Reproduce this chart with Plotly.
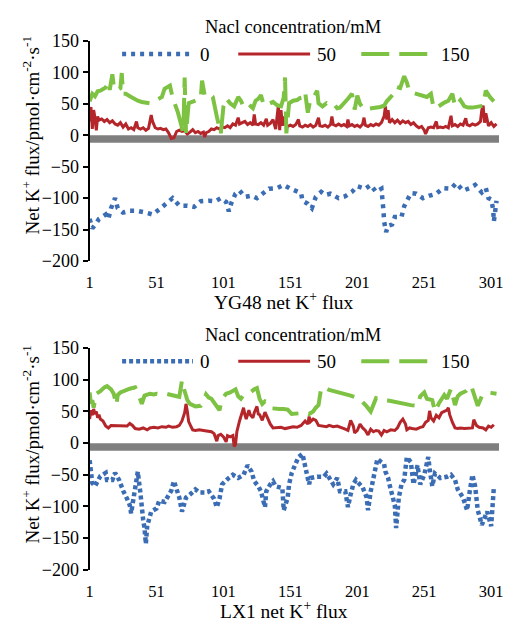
import plotly.graph_objects as go

# ---------------- data: YG48 (top panel) ----------------
yg_x0 = [1, 3, 6, 8, 13, 15, 17, 19, 20, 22, 26, 31, 36, 43, 48, 53, 58, 60, 63, 68, 74, 79, 84, 90, 95, 99,
         103, 105, 107, 110, 113, 117, 122, 126, 131, 135, 141, 146, 151, 156, 159, 160, 164, 167, 170, 174,
         177, 181, 187, 192, 197, 201, 207, 211, 215, 219, 220, 220.5, 221, 222.5, 224, 227, 229, 234, 236,
         239, 241, 245, 250, 255, 260, 265, 271, 275, 280, 285, 289, 294, 297, 299, 301, 302.5, 303, 304, 305]
yg_y0 = [-133, -148, -140, -133, -126, -133, -116, -102, -100, -116, -123, -120, -120, -123, -126, -118, -109,
         -106, -100, -112, -112, -114, -105, -104, -105, -100, -106, -121, -107, -93, -88, -98, -96, -100, -92,
         -85, -84, -79, -85, -90, -92, -104, -109, -116, -98, -90, -95, -93, -100, -97, -90, -81, -85, -79, -90,
         -85, -102, -119, -137, -154, -144, -142, -130, -130, -113, -98, -92, -93, -100, -96, -93, -84, -85,
         -76, -88, -84, -79, -91, -84, -100, -102, -118, -137, -121, -104]

yg_x50 = [1, 2, 3, 4, 5, 6, 7, 8, 10, 12, 14, 16, 18, 20, 22, 24, 26, 28, 30, 32, 34, 36, 37, 39, 41, 43, 45,
          47, 48, 50, 52, 54, 56, 58, 60, 62, 64, 66, 68, 70, 72, 74, 76, 78, 80, 82, 84, 86, 87, 88, 90, 92,
          94, 96, 98, 100, 102, 104, 106, 108, 110, 112, 113, 115, 117, 119, 121, 123, 124, 125, 127, 129, 131,
          133, 134, 136, 138, 140, 141, 142, 143, 144, 145, 146, 147, 149, 151, 153, 155, 157, 158, 160, 162,
          164, 166, 168, 170, 172, 173, 175, 177, 179, 181, 182, 183, 185, 187, 189, 191, 193, 194, 195, 197,
          199, 201, 203, 205, 206, 207, 209, 211, 213, 215, 217, 219, 221, 222, 223, 224, 225, 227, 229, 231,
          233, 235, 237, 239, 241, 243, 245, 247, 249, 251, 252, 254, 256, 258, 260, 261, 263, 265, 267, 269,
          271, 272, 274, 276, 278, 280, 282, 283, 285, 287, 289, 291, 293, 294, 295, 296, 297, 299, 301, 303, 305]
yg_y50 = [22, 45, 10, 40, 28, 8, 30, 24, 26, 22, 25, 20, 23, 18, 16, 20, 13, 18, 10, 12, 9, 22, 12, 10, 12, 8,
          11, 32, 22, 12, 10, 11, 9, 10, 4, -5, -4, 6, 8, 6, 7, 2, 5, 9, 4, 6, 3, 5, -3, 4, 6, 10, 9, 12, 10,
          13, 12, 15, 12, 18, 16, 28, 18, 20, 22, 17, 20, 16, 33, 18, 17, 20, 16, 26, 16, 19, 25, 10, 35, 48, 8,
          40, 15, 30, 18, 14, 16, 14, 17, 25, 15, 13, 16, 14, 17, 13, 16, 28, 15, 14, 16, 13, 17, 30, 17, 15, 18,
          15, 17, 14, 25, 15, 17, 14, 16, 13, 18, 28, 16, 14, 17, 15, 18, 16, 20, 30, 46, 25, 40, 20, 25, 20, 24,
          19, 23, 20, 22, 17, 20, 15, 12, 14, 8, 2, 12, 13, 12, 22, 12, 13, 12, 14, 12, 31, 15, 17, 14, 18, 16,
          27, 17, 15, 18, 16, 18, 22, 40, 47, 20, 35, 15, 20, 14, 18]

yg_x150 = [1, 3, 5, 7, 9, 11, 13, 15, 16, 18, 19, 20, 22, 24, 25, 26, 28, 31, 34, 37, 40, 43, 46, 50, 53, 55,
           57, 59, 61, 63, 65, 67, 69, 71, 72, 73, 75, 78, 81, 84, 85, 87, 90, 93, 96, 99, 101, 103, 106, 109,
           112, 114, 116, 119, 121, 123, 125, 127, 129, 131, 133, 136, 138, 141, 144, 146, 147, 148, 150, 153,
           156, 158, 160, 162, 164, 166, 169, 171, 172, 175, 178, 180, 182, 184, 186, 188, 191, 194, 197, 199,
           201, 203, 206, 210, 214, 218, 221, 223, 226, 228, 230, 233, 236, 238, 240, 243, 246, 249, 253, 256,
           258, 261, 263, 266, 269, 272, 274, 276, 278, 281, 284, 287, 290, 293, 295, 297, 300, 303]
yg_y150 = [54, 66, 62, 70, 71, 74, 76, 84, 72, 97, 78, 79, 72, 75, 99, 66, 66, 62, 58, 55, 53, 52, 51, 55, 58,
           61, 74, 77, 79, 60, 50, 36, 20, 3, 92, 3, 51, 53, 55, 58, 87, 63, 66, 61, 30, 3, 46, 59, 51, 46, 61,
           55, 46, 51, 47, 43, 55, 58, 64, 48, 48, 50, 53, 48, 46, 60, 92, 3, 51, 55, 56, 59, 60, 69, 36, 58, 63,
           71, 51, 46, 51, 48, 46, 48, 43, 44, 50, 58, 66, 41, 63, 50, 41, 42, 43, 45, 47, 54, 61, 66, 77, 75, 94,
           84, 69, 67, 66, 64, 61, 66, 43, 45, 48, 52, 55, 66, 46, 51, 56, 46, 44, 44, 45, 46, 47, 71, 61, 54]

# ---------------- data: LX1 (bottom panel) ----------------
lx_x0 = [1, 1.5, 2, 3, 5, 7, 9, 13, 14, 18, 20, 23, 24, 26, 29, 31, 32, 34, 35, 36, 37, 39, 40, 41, 42, 43, 44,
         45, 47, 51, 53, 57, 59, 62, 64, 66, 68, 70, 73, 76, 80, 83, 87, 90, 94, 96, 98, 100, 102, 105, 108,
         112, 116, 119, 122, 124, 127, 129, 132, 133, 136, 138, 140, 145, 146, 149, 150, 152, 155, 157, 160,
         163, 165, 166, 171, 176, 178, 181, 183, 186, 188, 192, 194, 196, 198, 200, 203, 205, 208, 209, 211,
         213, 215, 216, 219, 221, 222, 224, 225, 227, 229, 230, 232, 234, 236, 237, 238, 241, 243, 246, 248,
         251, 254, 255, 257, 259, 263, 268, 271, 274, 276, 280, 283, 285, 287, 289, 291, 294, 296, 298, 301,
         302, 303]
lx_y0 = [-27, -40, -55, -63, -68, -60, -52, -47, -58, -58, -47, -58, -65, -75, -88, -98, -111, -88, -70, -58,
         -45, -80, -108, -121, -134, -159, -131, -121, -108, -103, -91, -93, -86, -75, -60, -73, -86, -108, -86,
         -81, -73, -78, -78, -76, -88, -101, -88, -65, -60, -55, -50, -55, -50, -35, -45, -60, -68, -76, -101,
         -76, -65, -60, -68, -71, -106, -86, -65, -47, -32, -22, -17, -42, -65, -55, -53, -53, -48, -58, -65,
         -55, -76, -76, -101, -81, -65, -58, -65, -70, -86, -106, -76, -58, -38, -25, -30, -33, -45, -55, -65,
         -80, -98, -134, -86, -65, -58, -40, -22, -30, -65, -35, -65, -50, -22, -40, -68, -48, -55, -53, -50,
         -58, -73, -86, -106, -76, -50, -68, -106, -129, -118, -108, -131, -103, -70]

lx_x50 = [1, 2, 3, 4, 5, 6, 7, 8, 9, 11, 13, 15, 17, 20, 23, 26, 29, 31, 33, 35, 38, 41, 44, 46, 49, 52, 55,
          58, 60, 63, 66, 68, 70, 72, 73, 74, 75, 77, 78, 80, 83, 86, 89, 92, 94, 96, 97, 99, 101, 103, 104,
          106, 108, 109, 110, 111, 113, 115, 116, 117, 118, 120, 121, 123, 124, 126, 127, 128, 130, 132, 134,
          136, 138, 141, 144, 147, 150, 153, 156, 159, 162, 164, 165, 166, 168, 170, 172, 175, 178, 180, 183,
          186, 189, 192, 194, 196, 198, 199, 201, 203, 205, 207, 209, 211, 213, 215, 217, 219, 221, 223, 226,
          229, 231, 233, 235, 237, 238, 240, 242, 245, 248, 250, 252, 254, 255, 256, 258, 260, 262, 264, 266,
          268, 269, 270, 272, 274, 276, 278, 281, 284, 287, 288, 290, 292, 295, 297, 299, 301, 303]
lx_y50 = [38, 52, 44, 54, 46, 50, 40, 45, 38, 35, 27, 24, 28, 28, 27, 28, 27, 31, 28, 23, 22, 24, 21, 24, 25,
          24, 26, 25, 27, 25, 26, 28, 35, 48, 62, 50, 34, 25, 21, 20, 21, 20, 19, 18, 15, 3, 12, 14, 10, 2, 12,
          10, 12, -5, -2, 18, 35, 48, 56, 45, 38, 52, 45, 40, 48, 58, 46, 45, 36, 49, 38, 30, 24, 24, 25, 23,
          24, 26, 25, 28, 35, 30, 42, 34, 38, 36, 28, 27, 26, 28, 26, 27, 25, 22, 20, 36, 27, 16, 20, 30, 24,
          20, 13, 22, 18, 20, 19, 13, 20, 18, 21, 20, 24, 33, 38, 30, 21, 24, 23, 22, 25, 26, 33, 36, 51, 40,
          35, 44, 40, 48, 50, 52, 56, 45, 33, 24, 23, 24, 23, 23, 24, 37, 28, 25, 24, 21, 27, 25, 29]

lx_x150 = [1, 2, 3, 4, 6, 9, 12, 14, 17, 19, 21, 22, 24, 28, 31, 35, 37, 40, 42, 46, 49, 51, 55, 58, 61, 64,
           66, 68, 70, 72, 74, 76, 80, 84, 86, 88, 90, 92, 95, 97, 98, 100, 103, 106, 108, 110, 112, 114, 116,
           118, 121, 124, 126, 128, 130, 132, 134, 137, 140, 143, 146, 149, 152, 155, 158, 162, 165, 168, 170,
           172, 174, 176, 180, 184, 188, 191, 196, 200, 204, 208, 211, 215, 220, 225, 230, 236, 241, 246, 248,
           251, 253, 257, 259, 262, 266, 268, 271, 274, 276, 278, 282, 286, 289, 291, 294, 296, 299, 302, 305]
lx_y150 = [80, 62, 68, 56, 78, 82, 88, 90, 85, 78, 60, 76, 80, 84, 86, 88, 80, 62, 75, 78, 77, 78, 77, 78, 77,
           76, 74, 73, 99, 82, 68, 62, 58, 59, 66, 77, 72, 70, 60, 55, 52, 70, 78, 80, 83, 85, 74, 70, 76, 78,
           80, 85, 87, 70, 62, 66, 64, 55, 54, 54, 54, 53, 46, 47, 48, 48, 46, 50, 56, 60, 87, 88, 84, 82, 80,
           77, 75, 72, 67, 58, 50, 71, 68, 67, 65, 61, 60, 59, 74, 80, 70, 68, 50, 63, 76, 70, 86, 60, 74, 78,
           82, 91, 70, 59, 74, 76, 80, 79, 78]

x_tickvals = [1, 51, 101, 151, 201, 251, 301]
y_tickvals = [-200, -150, -100, -50, 0, 50, 100, 150]
legend_names = ["0", "50", "150"]
panel_titles = ["YG48 net K<sup>+</sup> flux", "LX1 net K<sup>+</sup> flux"]
legend_title = "Nacl concentration/mM"
y_title = "Net K<sup>+</sup> flux/pmol·cm<sup>-2</sup>·s<sup>-1</sup>"

# ---------------- styling ----------------
W, H = 507, 626
FONT = "Liberation Serif, Times New Roman, serif"
BLUE, RED, GREEN, GRAY = "#3b6db4", "#b5262b", "#7dc243", "#7f7f7f"
XMAX = 306.9

def py2paper(py):
    return 1 - py / H

def px2paper(px):
    return px / W

fig = go.Figure()

panels = [
    dict(x0=yg_x0, y0=yg_y0, x50=yg_x50, y50=yg_y50, x150=yg_x150, y150=yg_y150,
         xa="x", ya="y", top=32.0, bottom=259.3, blue_dash="4px,5px"),
    dict(x0=lx_x0, y0=lx_y0, x50=lx_x50, y50=lx_y50, x150=lx_x150, y150=lx_y150,
         xa="x2", ya="y2", top=349.3, bottom=578.3, blue_dash="4px,3px"),
]

shapes = []
annotations = []
for i, p in enumerate(panels):
    fig.add_trace(go.Scatter(x=p["x0"], y=p["y0"], mode="lines", name=legend_names[0],
                             line=dict(color=BLUE, width=4.5, dash=p["blue_dash"]),
                             xaxis=p["xa"], yaxis=p["ya"], showlegend=False))
    fig.add_trace(go.Scatter(x=p["x50"], y=p["y50"], mode="lines", name=legend_names[1],
                             line=dict(color=RED, width=3),
                             xaxis=p["xa"], yaxis=p["ya"], showlegend=False))
    fig.add_trace(go.Scatter(x=p["x150"], y=p["y150"], mode="lines", name=legend_names[2],
                             line=dict(color=GREEN, width=4, dash="28px,10px"),
                             xaxis=p["xa"], yaxis=p["ya"], showlegend=False))
    # thick gray horizontal axis band at zero
    shapes.append(dict(type="rect", xref=p["xa"], yref=p["ya"], x0=1, x1=XMAX, y0=-12, y1=0,
                       fillcolor=GRAY, line=dict(width=0), layer="below"))

    # legend (manual, inside plot top)
    leg_y = py2paper(p["top"] + 13.5)
    keys = [(120, 192, BLUE, 4.5, p["blue_dash"], 197),
            (238, 311, RED, 3, "solid", 316),
            (363, 440, GREEN, 4, "28px,10px", 442)]
    for (a, b, c, w, d, tx), name in zip(keys, legend_names):
        shapes.append(dict(type="line", xref="paper", yref="paper",
                           x0=px2paper(a), x1=px2paper(b), y0=leg_y, y1=leg_y,
                           line=dict(color=c, width=w, dash=d)))
        annotations.append(dict(text=name, xref="paper", yref="paper", x=px2paper(tx), y=leg_y,
                                xanchor="left", yanchor="middle", showarrow=False,
                                font=dict(family=FONT, size=19, color="black")))
    annotations.append(dict(text=legend_title, xref="paper", yref="paper",
                            x=px2paper(294), y=py2paper(p["top"] - 14),
                            xanchor="center", yanchor="middle", showarrow=False,
                            font=dict(family=FONT, size=18.5, color="black")))
    annotations.append(dict(text=panel_titles[i], xref="paper", yref="paper",
                            x=px2paper(284), y=py2paper(p["bottom"] + 41),
                            xanchor="center", yanchor="middle", showarrow=False,
                            font=dict(family=FONT, size=19.5, color="black")))
    annotations.append(dict(text=y_title, xref="paper", yref="paper", textangle=-90,
                            x=px2paper(27), y=py2paper(p["top"] + 97 if i == 0 else p["top"] + 99),
                            xanchor="center", yanchor="middle", showarrow=False,
                            font=dict(family=FONT, size=19, color="black")))

x_font = dict(family=FONT, size=16.5, color="black")
y_font = dict(family=FONT, size=18, color="black")
common_x = dict(range=[1, XMAX], tickvals=x_tickvals, showgrid=False, zeroline=False, showline=False,
                ticks="outside", ticklen=6, tickcolor="rgba(0,0,0,0)", tickfont=x_font,
                ticklabeloverflow="allow")
common_y = dict(range=[-200, 150], tickvals=y_tickvals, showgrid=False, zeroline=False, showline=True,
                linecolor="black", linewidth=2, ticks="outside", ticklen=5, tickwidth=2,
                tickcolor="black", tickfont=y_font)

x_dom = [px2paper(87), px2paper(503)]
fig.update_layout(
    width=W, height=H, margin=dict(l=0, r=0, t=0, b=0),
    paper_bgcolor="white", plot_bgcolor="white",
    font=dict(family=FONT, color="black"),
    xaxis=dict(domain=x_dom, anchor="y", **common_x),
    yaxis=dict(domain=[py2paper(259.3), py2paper(32.0)], anchor="x", **common_y),
    xaxis2=dict(domain=x_dom, anchor="y2", **common_x),
    yaxis2=dict(domain=[py2paper(578.3), py2paper(349.3)], anchor="x2", **common_y),
    shapes=shapes, annotations=annotations, showlegend=False,
)

fig.write_html("out.html")
